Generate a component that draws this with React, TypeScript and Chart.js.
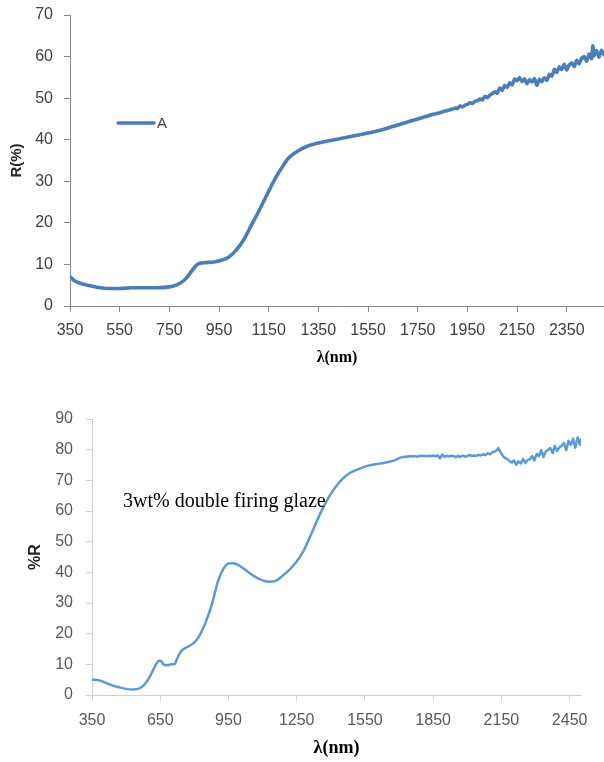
import React, { useEffect, useRef } from "react";
import { Chart, registerables } from "chart.js";

Chart.register(...registerables);

// ---- Sample A: diffuse reflectance R(%) vs wavelength (nm) ----
const TOP_WAVELENGTH = [
  350, 370, 400, 430, 470, 500, 550, 600, 650, 700, 750, 780, 810, 830, 850, 865, 890, 930, 960, 990,
  1020, 1050, 1080, 1110, 1140, 1170, 1200, 1230, 1260, 1300, 1350, 1400, 1450, 1500, 1550, 1600, 1650,
  1700, 1750, 1800, 1810, 1820, 1830, 1840, 1850, 1860, 1870, 1880, 1890, 1900, 1910, 1920, 1930, 1940,
  1950, 1960, 1970, 1980, 1990, 2000, 2010, 2020, 2030, 2040, 2050, 2060, 2070, 2080, 2090, 2100, 2110,
  2120, 2130, 2140, 2150, 2160, 2170, 2180, 2190, 2200, 2210, 2220, 2230, 2240, 2250, 2260, 2270, 2280,
  2290, 2300, 2310, 2320, 2330, 2340, 2350, 2360, 2370, 2380, 2390, 2400, 2410, 2420, 2430, 2440, 2450,
  2455, 2460, 2470, 2480, 2490, 2500,
];
const TOP_REFLECTANCE = [
  7.0, 6.0, 5.3, 4.9, 4.4, 4.2, 4.2, 4.4, 4.4, 4.4, 4.6, 5.1, 6.2, 7.6, 9.2, 10.1, 10.4, 10.6, 11.0, 11.8,
  13.5, 16.0, 19.4, 22.8, 26.4, 30.0, 33.0, 35.6, 37.0, 38.3, 39.2, 39.8, 40.4, 41.0, 41.6, 42.3, 43.2,
  44.1, 45.0, 45.9, 46.1, 46.2, 46.4, 46.5, 46.7, 46.9, 47.0, 47.2, 47.4, 47.6, 47.5, 48.1, 47.9, 48.3,
  48.5, 48.9, 48.7, 49.2, 49.4, 49.8, 49.6, 50.4, 50.1, 50.7, 51.1, 51.5, 51.2, 52.4, 51.9, 53.0, 52.6,
  53.7, 53.2, 54.6, 54.2, 54.9, 54.0, 54.6, 53.5, 54.4, 53.9, 54.7, 53.1, 54.5, 54.0, 54.9, 54.3, 55.7,
  55.3, 56.9, 56.2, 57.5, 56.9, 58.1, 56.8, 58.0, 58.5, 57.6, 59.1, 58.3, 59.6, 60.0, 58.9, 60.6, 59.5,
  62.6, 60.2, 61.4, 59.9, 61.5, 60.5,
];
const TOP_X_TICKS = [350, 550, 750, 950, 1150, 1350, 1550, 1750, 1950, 2150, 2350];
const TOP_Y_TICKS = [0, 10, 20, 30, 40, 50, 60, 70];
const TOP_SERIES_LABEL = "A";

// ---- 3wt% double firing glaze: %R vs wavelength (nm) ----
const BOTTOM_WAVELENGTH = [
  350, 380, 410, 440, 470, 500, 530, 560, 590, 610, 630, 645, 655, 665, 680, 700, 712, 725, 742, 760,
  776, 810, 844, 860, 878, 903, 928, 950, 970, 996, 1030, 1064, 1100, 1131, 1160, 1190, 1220, 1250, 1280,
  1320, 1360, 1400, 1440, 1480, 1520, 1560, 1600, 1640, 1680, 1710, 1740, 1750, 1760, 1770, 1780, 1790,
  1800, 1810, 1820, 1830, 1840, 1850, 1860, 1870, 1880, 1890, 1900, 1910, 1920, 1930, 1940, 1950, 1960,
  1970, 1980, 1990, 2000, 2010, 2020, 2030, 2040, 2050, 2060, 2070, 2080, 2090, 2100, 2110, 2120, 2130,
  2136, 2145, 2155, 2165, 2175, 2185, 2195, 2205, 2215, 2225, 2235, 2245, 2255, 2265, 2275, 2285, 2295,
  2305, 2315, 2325, 2335, 2345, 2355, 2365, 2375, 2385, 2395, 2405, 2415, 2425, 2435, 2445, 2455, 2465,
  2475, 2485, 2495, 2500,
];
const BOTTOM_REFLECTANCE = [
  5.0, 4.8, 4.0, 3.1, 2.5, 2.0, 1.8, 2.2, 4.2, 6.8, 9.8, 11.2, 11.0, 9.9, 9.7, 10.0, 10.0, 12.0, 14.3, 15.3,
  15.9, 17.9, 22.7, 25.8, 29.8, 36.9, 41.2, 42.9, 43.0, 42.3, 40.5, 38.7, 37.4, 36.9, 37.3, 39.0, 41.0, 43.5,
  47.0, 53.5, 60.2, 65.6, 69.6, 72.2, 73.6, 74.7, 75.3, 75.8, 76.5, 77.5, 77.8, 77.9, 77.8, 77.9, 77.7, 78.0,
  77.9, 78.0, 77.8, 78.0, 77.9, 78.1, 77.8, 78.2, 77.2, 78.4, 77.7, 78.0, 77.8, 78.0, 77.9, 77.6, 78.0,
  77.6, 78.1, 77.7, 77.9, 78.3, 77.9, 78.1, 78.0, 78.3, 78.1, 78.5, 78.2, 78.8, 78.5, 79.1, 79.4, 79.8,
  80.5, 79.4, 78.1, 77.3, 77.0, 76.4, 75.8, 76.5, 75.1, 76.2, 75.5, 76.9, 75.7, 76.6, 76.9, 77.9, 76.5,
  78.6, 77.9, 79.8, 77.6, 79.4, 79.9, 80.6, 78.9, 81.2, 79.6, 80.7, 81.3, 82.2, 79.8, 82.9, 81.6, 83.6,
  80.6, 84.0, 81.6, 83.3,
];
const BOTTOM_X_TICKS = [350, 650, 950, 1250, 1550, 1850, 2150, 2450];
const BOTTOM_Y_TICKS = [0, 10, 20, 30, 40, 50, 60, 70, 80, 90];
const BOTTOM_NOTE = "3wt% double firing glaze";

const SANS = "'Liberation Sans', Arial, sans-serif";
const SERIF = "'Liberation Serif', 'Times New Roman', serif";

type PanelSpec = {
  wavelength: number[];
  values: number[];
  noisyFrom: number; // wavelength where the detector noise starts (drawn with straight segments)
  label: string;
  color: string;
  lineWidth: number;
  xMin: number;
  xMax: number;
  yMax: number;
  xTicks: number[];
  yTicks: number[];
  yTitle: string;
  yTitleSize: number;
  yTitlePad: number;
  xTitleSize: number;
  xTitlePad: number;
  axisColor: string;
  tickColor: string;
  tickSize: number;
  yLabelPad: number;
  xLabelPad: number;
  yAxisWidth: number;
  xAxisHeight: number;
  padding: { top: number; right: number; bottom: number; left: number };
  overlay: (chart: Chart) => void;
};

function zeroScalePadding(s: any) {
  s.paddingTop = 0;
  s.paddingBottom = 0;
  s.paddingLeft = 0;
  s.paddingRight = 0;
}

function buildConfig(p: PanelSpec): any {
  const points = p.wavelength.map((w, i) => ({ x: w, y: p.values[i] }));
  const smooth = points.filter((pt) => pt.x <= p.noisyFrom);
  const noisy = points.filter((pt) => pt.x >= p.noisyFrom);
  const lineStyle = {
    borderColor: p.color,
    borderWidth: p.lineWidth,
    pointRadius: 0,
    fill: false,
    borderJoinStyle: "round",
    borderCapStyle: "round",
  };
  return {
    type: "line",
    data: {
      datasets: [
        { ...lineStyle, label: p.label, data: smooth, cubicInterpolationMode: "monotone" },
        { ...lineStyle, label: p.label + " (noise)", data: noisy, tension: 0 },
      ],
    },
    options: {
      animation: false,
      responsive: false,
      devicePixelRatio: 1,
      layout: { padding: p.padding, autoPadding: false },
      plugins: { legend: { display: false }, tooltip: { enabled: false } },
      scales: {
        x: {
          type: "linear",
          min: p.xMin,
          max: p.xMax,
          afterBuildTicks: (s: any) => {
            s.ticks = p.xTicks.map((v) => ({ value: v }));
          },
          afterFit: (s: any) => {
            s.height = p.xAxisHeight;
            zeroScalePadding(s);
          },
          grid: {
            display: true,
            drawOnChartArea: false,
            drawTicks: true,
            tickLength: 6,
            color: p.axisColor,
            tickColor: p.axisColor,
          },
          border: { display: true, color: p.axisColor, width: 1 },
          ticks: {
            autoSkip: false,
            maxRotation: 0,
            minRotation: 0,
            padding: p.xLabelPad,
            color: p.tickColor,
            font: { family: SANS, size: p.tickSize },
            callback: (v: any) => String(v),
          },
          title: {
            display: true,
            text: "λ(nm)",
            color: "#000000",
            font: { family: SERIF, size: p.xTitleSize, weight: "bold" },
            padding: { top: 0, bottom: p.xTitlePad },
          },
        },
        y: {
          type: "linear",
          min: 0,
          max: p.yMax,
          afterBuildTicks: (s: any) => {
            s.ticks = p.yTicks.map((v) => ({ value: v }));
          },
          afterFit: (s: any) => {
            s.width = p.yAxisWidth;
            zeroScalePadding(s);
          },
          grid: {
            display: true,
            drawOnChartArea: false,
            drawTicks: true,
            tickLength: 6,
            color: p.axisColor,
            tickColor: p.axisColor,
          },
          border: { display: true, color: p.axisColor, width: 1 },
          ticks: {
            padding: p.yLabelPad,
            color: p.tickColor,
            font: { family: SANS, size: p.tickSize },
            callback: (v: any) => String(v),
          },
          title: {
            display: true,
            text: p.yTitle,
            color: "#262626",
            font: { family: SANS, size: p.yTitleSize, weight: "bold" },
            padding: { top: p.yTitlePad, bottom: 0 },
          },
        },
      },
    },
    plugins: [
      {
        id: "panelOverlay",
        afterDraw: (chart: Chart) => p.overlay(chart),
      },
    ],
  };
}

// Series key drawn inside the plot area, next to the y axis.
function drawInlineLegend(chart: Chart) {
  const ds: any = chart.data.datasets[0];
  const { ctx, chartArea } = chart;
  const x0 = chartArea.left + 48;
  const y0 = chartArea.top + 108;
  ctx.save();
  ctx.strokeStyle = ds.borderColor;
  ctx.lineWidth = 3.5;
  ctx.lineCap = "round";
  ctx.beginPath();
  ctx.moveTo(x0, y0);
  ctx.lineTo(x0 + 36, y0);
  ctx.stroke();
  ctx.fillStyle = "#404040";
  ctx.font = `15px ${SANS}`;
  ctx.textAlign = "left";
  ctx.textBaseline = "middle";
  ctx.fillText(ds.label, x0 + 39, y0 + 1);
  ctx.restore();
}

// Sample description written on the plot.
function drawNote(chart: Chart) {
  const { ctx, chartArea } = chart;
  ctx.save();
  ctx.fillStyle = "#000000";
  ctx.font = `20px ${SERIF}`;
  ctx.textAlign = "left";
  ctx.textBaseline = "alphabetic";
  ctx.fillText(BOTTOM_NOTE, chartArea.left + 31, chartArea.top + 88);
  ctx.restore();
}

const TOP_PANEL: PanelSpec = {
  wavelength: TOP_WAVELENGTH,
  values: TOP_REFLECTANCE,
  noisyFrom: 1800,
  label: TOP_SERIES_LABEL,
  color: "#4A7EBB",
  lineWidth: 3.6,
  xMin: 350,
  xMax: 2500,
  yMax: 70,
  xTicks: TOP_X_TICKS,
  yTicks: TOP_Y_TICKS,
  yTitle: "R(%)",
  yTitleSize: 15,
  yTitlePad: 8,
  xTitleSize: 16,
  xTitlePad: 5,
  axisColor: "#868686",
  tickColor: "#404040",
  tickSize: 16,
  yLabelPad: 11,
  xLabelPad: 9,
  yAxisWidth: 70,
  xAxisHeight: 66,
  padding: { top: 15, right: 0, bottom: 0, left: 0 },
  overlay: drawInlineLegend,
};

const BOTTOM_PANEL: PanelSpec = {
  wavelength: BOTTOM_WAVELENGTH,
  values: BOTTOM_REFLECTANCE,
  noisyFrom: 1740,
  label: BOTTOM_NOTE,
  color: "#5B9BD5",
  lineWidth: 2.5,
  xMin: 350,
  xMax: 2500,
  yMax: 90,
  xTicks: BOTTOM_X_TICKS,
  yTicks: BOTTOM_Y_TICKS,
  yTitle: "%R",
  yTitleSize: 16,
  yTitlePad: 26,
  xTitleSize: 18,
  xTitlePad: 3,
  axisColor: "#D0D0D0",
  tickColor: "#595959",
  tickSize: 16,
  yLabelPad: 13,
  xLabelPad: 10,
  yAxisWidth: 92,
  xAxisHeight: 67,
  padding: { top: 39, right: 23, bottom: 0, left: 0 },
  overlay: drawNote,
};

function Panel({ spec, top, height }: { spec: PanelSpec; top: number; height: number }) {
  const ref = useRef<HTMLCanvasElement | null>(null);
  useEffect(() => {
    if (!ref.current) return;
    const chart = new Chart(ref.current, buildConfig(spec));
    return () => chart.destroy();
  }, [spec]);
  return (
    <canvas
      ref={ref}
      width={604}
      height={height}
      style={{ position: "absolute", left: 0, top, width: 604, height, display: "block" }}
    />
  );
}

export default function App() {
  return (
    <div>
      <Panel spec={TOP_PANEL} top={0} height={372} />
      <Panel spec={BOTTOM_PANEL} top={380} height={382} />
    </div>
  );
}
